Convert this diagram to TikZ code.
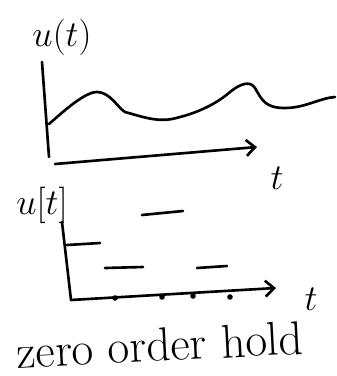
\documentclass[tikz,border=0pt]{standalone}
\usetikzlibrary{arrows.meta}
\begin{document}
\begin{tikzpicture}[x=0.02cm,y=-0.02cm,line width=1.5pt,line cap=round,line join=round]
\useasboundingbox (0,0) rectangle (337,376);
% continuous signal
\draw (42,62) -- (49,157);
\draw[-{Straight Barb[length=5pt,width=9pt]}] (55,164) -- (257,147);
\draw (49,124) .. controls (65,110) and (85,92) .. (97,92)
  .. controls (110,92) and (118,108) .. (125,112)
  .. controls (140,116) and (155,122) .. (172,119)
  .. controls (195,114) and (215,105) .. (230,92)
  .. controls (240,84) and (250,80) .. (255,88)
  .. controls (262,100) and (265,108) .. (285,108)
  .. controls (305,108) and (320,98) .. (335,97);
\node at (62,37) {\fontsize{20}{24}\selectfont $u(t)$};
\node at (277,178) {\fontsize{20}{24}\selectfont $t$};
% sampled signal
\draw (62,222) -- (71,300);
\draw[-{Straight Barb[length=5pt,width=9pt]}] (71,300) -- (276,288);
\foreach \px/\py in {115/298,162/297,193/296,230/297}
  \fill (\px,\py) circle (2.8);
\draw (67,245) -- (100,243);
\draw (105,268) -- (143,267);
\draw (142,215) -- (183,211);
\draw (197,268) -- (227,266);
\node at (42,205) {\fontsize{20}{24}\selectfont $u[t]$};
\node at (311,299) {\fontsize{20}{24}\selectfont $t$};
\node[rotate=3,inner sep=0pt] at (160,345) {\fontsize{27}{30}\selectfont zero order hold};
\end{tikzpicture}
\end{document}
